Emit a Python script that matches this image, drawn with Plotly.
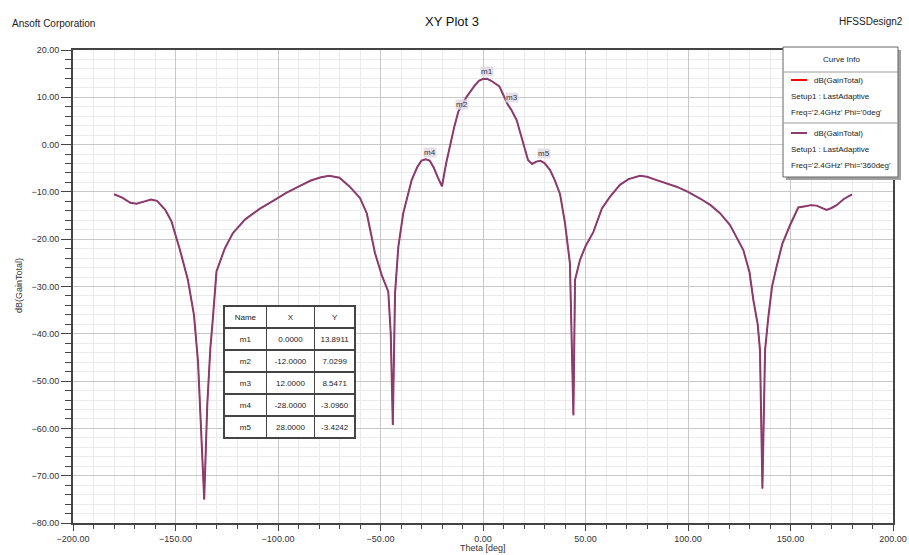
import plotly.graph_objects as go

# ---------------- data ----------------
theta = [-180, -176, -172, -169, -165, -162, -159, -155, -152, -148, -144, -141, -139, -137.5, -136,
         -134.5, -133, -132, -130, -126, -122, -116, -109, -102, -96, -90, -84, -79, -75, -70, -65,
         -60, -56.7, -52.7, -49.4, -46.2, -45, -44, -43, -42.9, -41.3, -38.9, -34.8, -32, -30, -28,
         -26, -24, -22, -20, -18, -16, -14, -12, -8, -4, -2, 0, 2, 4, 8, 12, 14, 16.4, 19.7, 22, 24,
         26, 28, 30, 32.7, 35, 37.6, 40, 42.4, 43.2, 44.1, 44.9, 47.3, 50, 53.8, 58, 62, 66.8, 71,
         76.6, 80, 84.7, 90, 94.4, 100, 105.9, 111, 115.6, 120.5, 124, 127, 130, 131.9, 134, 135.1,
         136.3, 137.6, 139.2, 141, 143.2, 146, 149.8, 153.8, 157.9, 160, 162.7, 165, 167.6, 170,
         172.5, 176, 180]
gain = [-10.5, -11.2, -12.3, -12.5, -12.0, -11.6, -11.9, -13.8, -16.2, -22.0, -28.5, -36, -46, -60, -75.0,
        -55, -43, -38, -26.8, -22, -18.7, -15.8, -13.6, -11.8, -10.2, -8.9, -7.6, -6.9, -6.6, -7.0, -8.9,
        -11.3, -14.5, -22.9, -27.6, -31.1, -40, -59.3, -35, -31.4, -21.6, -14.5, -7.5, -4.7, -3.4, -3.1,
        -3.4, -4.9, -7.0, -8.8, -4.0, 0.3, 3.8, 7.03, 10.1, 12.5, 13.5, 13.89, 13.9, 13.5, 12.3, 8.55, 7.2,
        5.2, 0.3, -3.3, -4.1, -3.6, -3.42, -3.9, -5.4, -7.5, -10.5, -16.6, -25.1, -39.2, -57.2, -28.6,
        -24.4, -21.5, -18.5, -13.5, -11.0, -8.5, -7.3, -6.6, -6.8, -7.5, -8.2, -8.9, -10.0, -11.4, -12.8,
        -14.5, -17.0, -19.8, -22.3, -27, -32.9, -38, -43.4, -72.7, -43.4, -36.4, -30, -25.8, -21, -17.0,
        -13.3, -13.0, -12.8, -12.9, -13.3, -13.8, -13.4, -12.8, -11.5, -10.5]

marker_names = ["m1", "m2", "m3", "m4", "m5"]
marker_x = [0.0, -12.0, 12.0, -28.0, 28.0]
marker_y = [13.8911, 7.0299, 8.5471, -3.0960, -3.4242]

legend_lines_1 = ["dB(GainTotal)", "Setup1 : LastAdaptive", "Freq='2.4GHz' Phi='0deg'"]
legend_lines_2 = ["dB(GainTotal)", "Setup1 : LastAdaptive", "Freq='2.4GHz' Phi='360deg'"]

# ---------------- layout helpers ----------------
W, H = 909, 555
L, R, T, B = 73, 16, 50, 32
FONT = "Liberation Sans, Arial, sans-serif"
RED = "#ff0000"
PURPLE = "#8a3c6e"


def px(x):
    return (x - L) / (W - L - R)


def py(y):
    return 1 - (y - T) / (H - T - B)


fig = go.Figure()

fig.add_trace(go.Scatter(x=theta, y=gain, mode="lines", line=dict(color=RED, width=1),
                         showlegend=False, hoverinfo="skip"))
fig.add_trace(go.Scatter(x=theta, y=gain, mode="lines", line=dict(color=PURPLE, width=2),
                         showlegend=False))

# marker table
fig.add_trace(go.Table(
    domain=dict(x=[px(224), px(356)], y=[py(440), py(306)]),
    columnwidth=[43, 48, 41],
    header=dict(values=["Name", "X", "Y"], height=22, align="center",
                fill_color="white", line=dict(color="#444", width=1.5),
                font=dict(family=FONT, size=8, color="#222")),
    cells=dict(values=[marker_names, [f"{v:.4f}" for v in marker_x], [f"{v:.4f}" for v in marker_y]],
               height=22, align="center", fill_color="white",
               line=dict(color="#444", width=1.5),
               font=dict(family=FONT, size=8, color="#222")),
))

annotations = []
# marker labels on the curve
for n, xv, yv in zip(marker_names, marker_x, marker_y):
    annotations.append(dict(x=xv, y=yv, xref="x", yref="y", text=n, showarrow=False,
                            xanchor="center", yanchor="middle", xshift=4, yshift=7,
                            bgcolor="rgba(225,215,225,0.8)", borderpad=0,
                            font=dict(family=FONT, size=8, color="#333")))

# header texts and axis titles
annotations += [
    dict(x=px(452), y=py(22), xref="paper", yref="paper", text="XY Plot 3", showarrow=False,
         xanchor="center", yanchor="middle", font=dict(family=FONT, size=13, color="#111")),
    dict(x=px(10), y=py(23), xref="paper", yref="paper", text="Ansoft Corporation", showarrow=False,
         xanchor="left", yanchor="middle", font=dict(family=FONT, size=10, color="#222")),
    dict(x=px(905), y=py(22), xref="paper", yref="paper", text="HFSSDesign2", showarrow=False,
         xanchor="right", yanchor="middle", font=dict(family=FONT, size=10, color="#222")),
    dict(x=px(483), y=py(548), xref="paper", yref="paper", text="Theta [deg]", showarrow=False,
         xanchor="center", yanchor="middle", font=dict(family=FONT, size=9, color="#333")),
    dict(x=px(19), y=py(286), xref="paper", yref="paper", text="dB(GainTotal)", showarrow=False,
         textangle=-90, xanchor="center", yanchor="middle", font=dict(family=FONT, size=9, color="#333")),
]

shapes = []
# legend box
shapes.append(dict(type="rect", xref="paper", yref="paper", x0=px(786), x1=px(901), y0=py(180), y1=py(50),
                   fillcolor="#a0a0a0", line=dict(width=0), layer="above"))
shapes.append(dict(type="rect", xref="paper", yref="paper", x0=px(783), x1=px(898), y0=py(177), y1=py(47),
                   fillcolor="white", line=dict(color="#666", width=1), layer="above"))
shapes.append(dict(type="line", xref="paper", yref="paper", x0=px(783), x1=px(898), y0=py(72), y1=py(72),
                   line=dict(color="#999", width=1), layer="above"))
shapes.append(dict(type="line", xref="paper", yref="paper", x0=px(783), x1=px(898), y0=py(123), y1=py(123),
                   line=dict(color="#999", width=1), layer="above"))
shapes.append(dict(type="line", xref="paper", yref="paper", x0=px(791), x1=px(807), y0=py(80), y1=py(80),
                   line=dict(color=RED, width=2), layer="above"))
shapes.append(dict(type="line", xref="paper", yref="paper", x0=px(791), x1=px(807), y0=py(133), y1=py(133),
                   line=dict(color=PURPLE, width=2), layer="above"))

annotations.append(dict(x=px(841), y=py(59), xref="paper", yref="paper", text="Curve Info",
                        showarrow=False, xanchor="center", yanchor="middle",
                        font=dict(family=FONT, size=8, color="#222")))
for lines, ys in ((legend_lines_1, (80, 96, 112)), (legend_lines_2, (133, 149, 165))):
    for i, (t, yy) in enumerate(zip(lines, ys)):
        annotations.append(dict(x=px(812 if i == 0 else 789), y=py(yy), xref="paper", yref="paper",
                                text=t, showarrow=False, xanchor="left", yanchor="middle",
                                font=dict(family=FONT, size=8, color="#222")))

axis_common = dict(
    showgrid=True, gridcolor="#c8c8c8", gridwidth=1,
    showline=True, linecolor="#444", linewidth=2, mirror=True,
    ticks="outside", tickcolor="#444", tickwidth=1,
    tickformat=".2f", zeroline=False,
    tickfont=dict(family=FONT, size=9, color="#333"),
)

fig.update_layout(
    width=W, height=H,
    margin=dict(l=L, r=R, t=T, b=B, autoexpand=False),
    paper_bgcolor="white", plot_bgcolor="white",
    showlegend=False,
    xaxis=dict(range=[-200, 200], dtick=50, tick0=0, ticklen=6,
               minor=dict(dtick=10, showgrid=True, gridcolor="#ebebeb", ticks="outside", ticklen=4,
                          tickcolor="#444"),
               **axis_common),
    yaxis=dict(range=[-80, 20], dtick=10, tick0=0, ticklen=10,
               minor=dict(dtick=2, showgrid=True, gridcolor="#ebebeb", ticks="outside", ticklen=6,
                          tickcolor="#444"),
               **axis_common),
    annotations=annotations,
    shapes=shapes,
)

fig.write_html("out.html", config={"displayModeBar": False},
               post_script="document.body.style.margin='0';document.body.style.overflow='hidden';")
